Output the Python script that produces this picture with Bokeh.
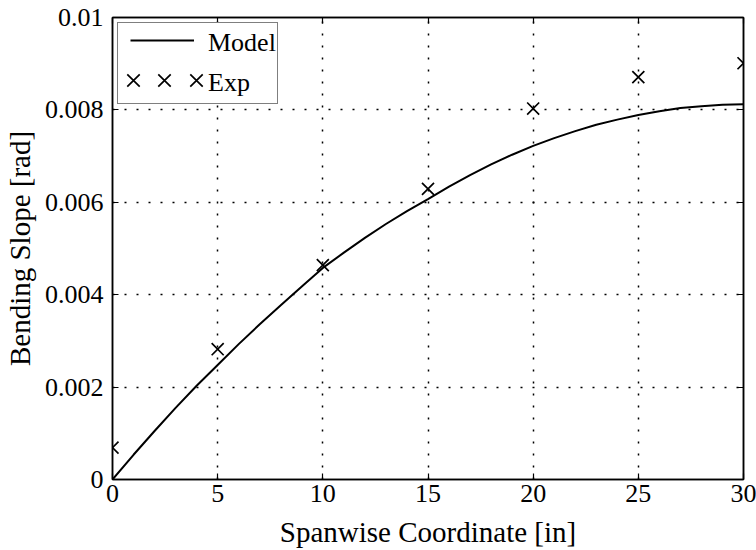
from bokeh.plotting import figure
from bokeh.models import (Range1d, FixedTicker, LinearAxis, Legend, LegendItem)
from bokeh.embed import file_html
from bokeh.resources import INLINE

# ---- data ----
model_x = list(range(0, 31))
model_y = [0.0, 0.000535, 0.00105, 0.00155, 0.00203, 0.00248, 0.00293, 0.00336,
           0.00377, 0.00418, 0.00458, 0.00491, 0.00523, 0.00553, 0.00581, 0.00607,
           0.00634, 0.00659, 0.00682, 0.00703, 0.00722, 0.00739, 0.00754, 0.00768,
           0.00779, 0.00789, 0.00797, 0.00804, 0.00808, 0.00811, 0.00812]
exp_x = [0, 5, 10, 15, 20, 25, 30]
exp_y = [0.00069, 0.00282, 0.00464, 0.00629, 0.00803, 0.00871, 0.00901]

x_ticks = [0, 5, 10, 15, 20, 25, 30]
y_ticks = [0, 0.002, 0.004, 0.006, 0.008, 0.01]
y_tick_labels = ["0", "0.002", "0.004", "0.006", "0.008", "0.01"]

FONT = "Liberation Serif"

p = figure(width=756, height=550, output_backend="svg", toolbar_location=None,
           x_range=Range1d(0, 30), y_range=Range1d(0, 0.01),
           min_border_left=111, min_border_right=13, min_border_top=17,
           min_border_bottom=69, background_fill_color="white",
           border_fill_color="white")
p.outline_line_color = "black"
p.outline_line_width = 1.5

r_model = p.line(model_x, model_y, line_color="black", line_width=2)
r_exp = p.scatter(exp_x, exp_y, marker="x", size=17, line_color="black",
                  line_width=1.7)
# invisible stand-ins so the legend rows keep their labels; samples drawn below
r_model_key = p.line([], [], line_color=None)
r_exp_key = p.scatter([], [], marker="x", size=17, line_color=None)

# axes
for ax in (p.xaxis[0], p.yaxis[0]):
    ax.axis_line_color = "black"
    ax.axis_line_width = 1.5
    ax.major_tick_in = 6
    ax.major_tick_out = 0
    ax.major_tick_line_color = "black"
    ax.major_tick_line_width = 1.2
    ax.minor_tick_line_color = None
    ax.major_label_text_font = FONT
    ax.major_label_text_font_size = "26px"
    ax.major_label_text_color = "black"
    ax.axis_label_text_font = FONT
    ax.axis_label_text_font_size = "29px"
    ax.axis_label_text_font_style = "normal"
    ax.axis_label_text_color = "black"

p.xaxis.ticker = FixedTicker(ticks=x_ticks)
p.yaxis.ticker = FixedTicker(ticks=y_ticks)
p.yaxis.major_label_overrides = {t: l for t, l in zip(y_ticks, y_tick_labels)}
p.xaxis.axis_label = "Spanwise Coordinate [in]"
p.yaxis.axis_label = "Bending Slope [rad]"
p.xaxis.major_label_standoff = 5
p.yaxis.major_label_standoff = 9
p.xaxis.axis_label_standoff = 11
p.yaxis.axis_label_standoff = 6

# ticks on top and right (box style), no labels
top_ax = LinearAxis(ticker=FixedTicker(ticks=x_ticks), major_tick_in=6,
                    major_tick_out=0, major_label_text_font_size="1px",
                    major_label_text_color=None,
                    minor_tick_line_color=None, axis_line_color="black",
                    axis_line_width=1.5, major_tick_line_width=1.2)
right_ax = LinearAxis(ticker=FixedTicker(ticks=y_ticks), major_tick_in=6,
                      major_tick_out=0, major_label_text_font_size="1px",
                      major_label_text_color=None,
                      minor_tick_line_color=None, axis_line_color="black",
                      axis_line_width=1.5, major_tick_line_width=1.2)
p.add_layout(top_ax, "above")
p.add_layout(right_ax, "right")

# grid
for g in (p.xgrid[0], p.ygrid[0]):
    g.grid_line_color = "black"
    g.grid_line_dash = "2 10"
    g.grid_line_width = 1.5
p.xgrid.ticker = FixedTicker(ticks=x_ticks)
p.ygrid.ticker = FixedTicker(ticks=y_ticks)

# legend box with labels
legend = Legend(items=[LegendItem(label="Model", renderers=[r_model_key]),
                       LegendItem(label="Exp", renderers=[r_exp_key])],
                location="top_left", margin=5, padding=1, spacing=2,
                glyph_width=88, glyph_height=38, label_height=38,
                label_width=68, label_standoff=1, label_text_font=FONT,
                label_text_font_size="26px", label_text_color="black",
                border_line_color="black", border_line_width=1.5,
                background_fill_color="white", background_fill_alpha=1.0)
p.add_layout(legend)

# legend samples: a short line for Model, three markers for Exp (MATLAB style)
line_key = Legend(items=[LegendItem(label=" ", renderers=[r_model])],
                  location=(18, 420), margin=0, padding=0, spacing=0,
                  glyph_width=64, glyph_height=38, label_height=38,
                  label_width=0, label_standoff=0,
                  label_text_font_size="1px", border_line_color=None,
                  background_fill_alpha=0.0)
p.add_layout(line_key)
for vx in (-1, 30, 62):
    extra = Legend(items=[LegendItem(label=" ", renderers=[r_exp])],
                   location=(vx, 377), margin=0, padding=0, spacing=0,
                   glyph_width=44, glyph_height=44, label_height=44,
                   label_width=0, label_standoff=0,
                   label_text_font_size="1px", border_line_color=None,
                   background_fill_alpha=0.0)
    p.add_layout(extra)

open("out.html", "w").write(file_html(p, INLINE))
